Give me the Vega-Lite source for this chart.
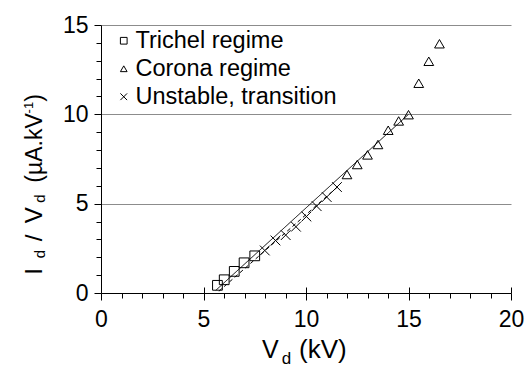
{
  "$schema": "https://vega.github.io/schema/vega-lite/v6.json",
  "width": 410,
  "height": 268,
  "autosize": {"type": "none"},
  "padding": {"left": 101, "top": 25, "right": 15, "bottom": 75},
  "background": "white",
  "config": {
    "font": "Liberation Sans",
    "view": {"stroke": null},
    "axis": {
      "domainColor": "black",
      "domainWidth": 1,
      "tickColor": "black",
      "labelColor": "black",
      "labelFont": "Liberation Sans",
      "labelFontSize": 23,
      "title": null
    }
  },
  "datasets": {
    "measurements": [
      {"regime": "Trichel regime", "Vd": 5.68, "ratio": 0.43},
      {"regime": "Trichel regime", "Vd": 6.01, "ratio": 0.74},
      {"regime": "Trichel regime", "Vd": 6.50, "ratio": 1.21},
      {"regime": "Trichel regime", "Vd": 6.98, "ratio": 1.69},
      {"regime": "Trichel regime", "Vd": 7.50, "ratio": 2.08},
      {"regime": "Unstable, transition", "Vd": 7.99, "ratio": 2.38},
      {"regime": "Unstable, transition", "Vd": 8.51, "ratio": 2.94},
      {"regime": "Unstable, transition", "Vd": 9.01, "ratio": 3.24},
      {"regime": "Unstable, transition", "Vd": 9.51, "ratio": 3.71},
      {"regime": "Unstable, transition", "Vd": 10.02, "ratio": 4.28},
      {"regime": "Unstable, transition", "Vd": 10.52, "ratio": 4.86},
      {"regime": "Unstable, transition", "Vd": 11.01, "ratio": 5.37},
      {"regime": "Unstable, transition", "Vd": 11.51, "ratio": 5.93},
      {"regime": "Corona regime", "Vd": 12.00, "ratio": 6.63},
      {"regime": "Corona regime", "Vd": 12.50, "ratio": 7.19},
      {"regime": "Corona regime", "Vd": 13.00, "ratio": 7.73},
      {"regime": "Corona regime", "Vd": 13.51, "ratio": 8.31},
      {"regime": "Corona regime", "Vd": 14.01, "ratio": 9.11},
      {"regime": "Corona regime", "Vd": 14.52, "ratio": 9.63},
      {"regime": "Corona regime", "Vd": 15.00, "ratio": 9.98},
      {"regime": "Corona regime", "Vd": 15.50, "ratio": 11.74},
      {"regime": "Corona regime", "Vd": 15.99, "ratio": 12.97},
      {"regime": "Corona regime", "Vd": 16.51, "ratio": 13.95}
    ],
    "fits": [
      {"fit": "overall", "Vd": 5.6, "ratio": 0.15},
      {"fit": "overall", "Vd": 15.0, "ratio": 10.0},
      {"fit": "low", "Vd": 5.75, "ratio": 0.1},
      {"fit": "low", "Vd": 11.65, "ratio": 6.05}
    ]
  },
  "encoding": {
    "x": {
      "type": "quantitative",
      "scale": {"domain": [0, 20], "nice": false, "zero": false},
      "axis": {
        "values": [0, 1, 2, 3, 4, 5, 6, 7, 8, 9, 10, 11, 12, 13, 14, 15, 16, 17, 18, 19, 20],
        "labelExpr": "datum.value % 5 === 0 ? datum.label : ''",
        "labelOverlap": false,
        "labelFlush": false,
        "labelPadding": 8,
        "tickSize": {"condition": {"test": "datum.value % 5 === 0", "value": 7}, "value": 5},
        "grid": true,
        "gridColor": "black",
        "gridDash": [6, 262],
        "gridDashOffset": 6,
        "gridOpacity": {"condition": {"test": "datum.value % 5 === 0 && datum.value > 0", "value": 1}, "value": 0}
      }
    },
    "y": {
      "type": "quantitative",
      "scale": {"domain": [0, 15], "nice": false, "zero": false},
      "axis": {
        "values": [0, 1, 2, 3, 4, 5, 6, 7, 8, 9, 10, 11, 12, 13, 14, 15],
        "labelExpr": "datum.value % 5 === 0 ? datum.label : ''",
        "labelOverlap": false,
        "labelFlush": false,
        "labelPadding": 6,
        "tickSize": {"condition": {"test": "datum.value % 5 === 0", "value": 7}, "value": 5},
        "grid": true,
        "gridColor": "#8c8c8c",
        "gridWidth": 1,
        "gridOpacity": {"condition": {"test": "datum.value % 5 === 0 && datum.value > 0", "value": 1}, "value": 0}
      }
    }
  },
  "layer": [
    {
      "data": {"name": "fits"},
      "mark": {"type": "line", "color": "black", "strokeWidth": 1},
      "encoding": {
        "x": {"field": "Vd"},
        "y": {"field": "ratio"},
        "detail": {"field": "fit"},
        "strokeDash": {
          "field": "fit",
          "type": "nominal",
          "scale": {"domain": ["overall", "low"], "range": [[1, 0], [4, 3]]},
          "legend": null
        }
      }
    },
    {
      "data": {"name": "measurements"},
      "mark": {"type": "point", "filled": false, "color": "black", "strokeWidth": 1, "size": 95, "opacity": 1},
      "encoding": {
        "x": {"field": "Vd"},
        "y": {"field": "ratio"},
        "shape": {
          "field": "regime",
          "type": "nominal",
          "scale": {
            "domain": ["Trichel regime", "Corona regime", "Unstable, transition"],
            "range": ["square", "triangle-up", "M-1,-1L1,1M-1,1L1,-1"]
          },
          "legend": {
            "title": null,
            "orient": "none",
            "legendX": 11,
            "legendY": 4,
            "padding": 0,
            "labelFont": "Liberation Sans",
            "labelFontSize": 23.5,
            "labelColor": "black",
            "labelOffset": 0,
            "labelLimit": 400,
            "rowPadding": 3,
            "symbolSize": 45,
            "symbolStrokeColor": "black",
            "symbolFillColor": "transparent",
            "symbolStrokeWidth": 1,
            "symbolOpacity": 1
          }
        }
      }
    },
    {
      "data": {"values": [{}]},
      "mark": {"type": "text", "text": "V", "font": "Liberation Sans", "fontSize": 25, "align": "left", "baseline": "alphabetic", "color": "black"},
      "encoding": {"x": {"datum": 7.85}, "y": {"datum": -3.62}}
    },
    {
      "data": {"values": [{}]},
      "mark": {"type": "text", "text": "d", "font": "Liberation Sans", "fontSize": 17, "align": "left", "baseline": "alphabetic", "color": "black"},
      "encoding": {"x": {"datum": 8.82}, "y": {"datum": -3.98}}
    },
    {
      "data": {"values": [{}]},
      "mark": {"type": "text", "text": "(kV)", "font": "Liberation Sans", "fontSize": 26, "align": "left", "baseline": "alphabetic", "color": "black"},
      "encoding": {"x": {"datum": 9.66}, "y": {"datum": -3.62}}
    },
    {
      "data": {"values": [{}]},
      "mark": {"type": "text", "text": "I", "font": "Liberation Sans", "fontSize": 24, "align": "left", "baseline": "alphabetic", "angle": 270, "color": "black"},
      "encoding": {"x": {"datum": -2.874}, "y": {"datum": 1.02}}
    },
    {
      "data": {"values": [{}]},
      "mark": {"type": "text", "text": "d", "font": "Liberation Sans", "fontSize": 15, "align": "left", "baseline": "alphabetic", "angle": 270, "color": "black"},
      "encoding": {"x": {"datum": -2.75}, "y": {"datum": 1.95}}
    },
    {
      "data": {"values": [{}]},
      "mark": {"type": "text", "text": "/", "font": "Liberation Sans", "fontSize": 24, "align": "left", "baseline": "alphabetic", "angle": 270, "color": "black"},
      "encoding": {"x": {"datum": -2.874}, "y": {"datum": 2.9}}
    },
    {
      "data": {"values": [{}]},
      "mark": {"type": "text", "text": "V", "font": "Liberation Sans", "fontSize": 24, "align": "left", "baseline": "alphabetic", "angle": 270, "color": "black"},
      "encoding": {"x": {"datum": -2.874}, "y": {"datum": 3.9}}
    },
    {
      "data": {"values": [{}]},
      "mark": {"type": "text", "text": "d", "font": "Liberation Sans", "fontSize": 15, "align": "left", "baseline": "alphabetic", "angle": 270, "color": "black"},
      "encoding": {"x": {"datum": -2.75}, "y": {"datum": 5.05}}
    },
    {
      "data": {"values": [{}]},
      "mark": {"type": "text", "text": "(µA.kV", "font": "Liberation Sans", "fontSize": 23, "align": "left", "baseline": "alphabetic", "angle": 270, "color": "black"},
      "encoding": {"x": {"datum": -2.874}, "y": {"datum": 6.17}}
    },
    {
      "data": {"values": [{}]},
      "mark": {"type": "text", "text": "-1", "font": "Liberation Sans", "fontSize": 13, "align": "left", "baseline": "alphabetic", "angle": 270, "color": "black"},
      "encoding": {"x": {"datum": -3.31}, "y": {"datum": 10.05}}
    },
    {
      "data": {"values": [{}]},
      "mark": {"type": "text", "text": ")", "font": "Liberation Sans", "fontSize": 23, "align": "left", "baseline": "alphabetic", "angle": 270, "color": "black"},
      "encoding": {"x": {"datum": -2.874}, "y": {"datum": 10.7}}
    }
  ]
}
